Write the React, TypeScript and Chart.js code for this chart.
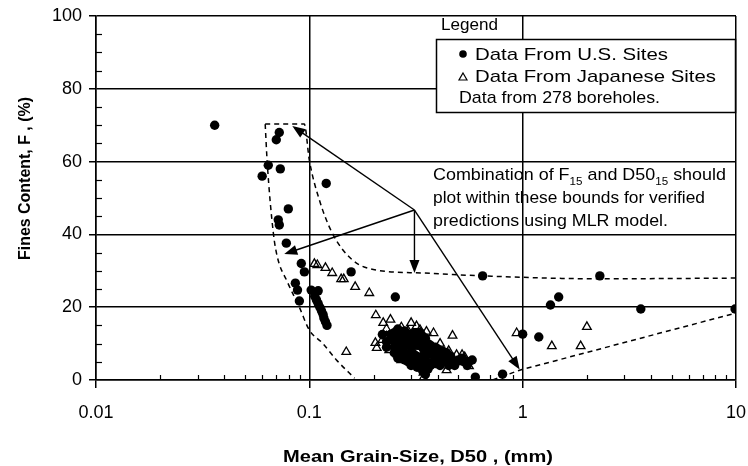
import React, { useEffect, useRef } from 'react';
import { Chart, registerables } from 'chart.js';

Chart.register(...registerables);

const FONT = "'Liberation Sans', Arial, Helvetica, sans-serif";

// ---------- data ----------
const usSites: [number, number][] = [
  [0.036, 70], [0.0723, 68], [0.070, 66], [0.0642, 59], [0.0601, 56], [0.0731, 58], [0.120, 54],
  [0.0797, 47], [0.0715, 44], [0.0723, 42.6], [0.078, 37.6], [0.0917, 32], [0.0948, 29.7], [0.157, 29.7],
  [0.086, 26.6], [0.088, 24.7], [0.0898, 21.7], [0.102, 24.7], [0.110, 24.5], [0.106, 23], [0.108, 22],
  [0.110, 21], [0.112, 20], [0.114, 19], [0.116, 18], [0.117, 17], [0.119, 16], [0.121, 15], [0.253, 22.8],
  [0.649, 28.6], [2.30, 28.6], [1.35, 20.6], [1.475, 22.8], [3.58, 19.5], [9.9, 19.5], [1.0, 12.6],
  [1.19, 11.8], [0.60, 0.8], [0.805, 1.6],
  [0.25, 13], [0.26, 14], [0.27, 12], [0.28, 13.5], [0.29, 11], [0.3, 12.5], [0.24, 11], [0.25, 9],
  [0.26, 10.5], [0.27, 8], [0.28, 9.5], [0.29, 7], [0.3, 9], [0.31, 10.5], [0.32, 11.5], [0.33, 9.5],
  [0.34, 12], [0.35, 8], [0.36, 10], [0.37, 9.5], [0.38, 7], [0.39, 9], [0.4, 8.5], [0.31, 7], [0.33, 6],
  [0.35, 5], [0.36, 7], [0.38, 5], [0.4, 6.5], [0.42, 8], [0.42, 5], [0.44, 6], [0.45, 4], [0.47, 5],
  [0.5, 5.5], [0.53, 5], [0.56, 5], [0.58, 5.5], [0.28, 5.5], [0.3, 4], [0.32, 3.5], [0.34, 2.5],
  [0.35, 1.5], [0.26, 6], [0.23, 9], [0.33, 13], [0.44, 7.5],
  [0.24, 12.5], [0.25, 11], [0.26, 12.5], [0.27, 10], [0.28, 11], [0.29, 12.5], [0.3, 10.5], [0.31, 13],
  [0.32, 9.5], [0.33, 10.5], [0.34, 9], [0.35, 11.5], [0.36, 8.5], [0.37, 7.5], [0.38, 8.5], [0.39, 6],
  [0.41, 7], [0.43, 6.5], [0.27, 6.5], [0.29, 5], [0.31, 5.5], [0.33, 4.5], [0.35, 6.5], [0.37, 4],
  [0.39, 4.5], [0.41, 4], [0.46, 6.5], [0.48, 4], [0.52, 6], [0.55, 4], [0.25, 7.5], [0.23, 10.5],
  [0.28, 7.5], [0.3, 6], [0.32, 6.5], [0.34, 4], [0.36, 3], [0.22, 12.5],
];

const japaneseSites: [number, number][] = [
  [0.1056, 31.9], [0.109, 31.6], [0.119, 30.8], [0.128, 29.4], [0.141, 27.7], [0.145, 27.7],
  [0.164, 25.6], [0.191, 23.9], [0.149, 7.7],
  [0.937, 12.9], [1.37, 9.3], [1.87, 9.3], [2.0, 14.6],
  [0.205, 17.8], [0.222, 15.7], [0.24, 16.6], [0.30, 15.7], [0.318, 14.8], [0.354, 13.3],
  [0.382, 12.9], [0.469, 12.2],
  [0.204, 10.2], [0.22, 11], [0.207, 8.8], [0.237, 8.2],
  [0.27, 5.5], [0.30, 4.9], [0.343, 3.6], [0.343, 2], [0.343, 0.6], [0.44, 2.7],
  [0.49, 6.9], [0.52, 6.9], [0.50, 4.9], [0.56, 3.8], [0.535, 6.3], [0.506, 5.5],
  [0.23, 12], [0.25, 13], [0.26, 11], [0.28, 12], [0.24, 10], [0.27, 9], [0.29, 10], [0.31, 12],
  [0.33, 11], [0.35, 10], [0.26, 7], [0.29, 7], [0.32, 8], [0.34, 7], [0.37, 9], [0.39, 8],
  [0.41, 10], [0.43, 7], [0.45, 8], [0.47, 6], [0.40, 5], [0.36, 5], [0.31, 6], [0.27, 14.5],
  [0.29, 13.5], [0.33, 13.8], [0.23, 14],
];

const outerBound: [number, number][] = [
  [0.0621, 70.3], [0.0635, 59.6], [0.0678, 40.4], [0.0708, 33.8], [0.0788, 27], [0.0898, 20],
  [0.1, 13.7], [0.115, 10.2], [0.134, 5.5], [0.163, 0.5],
];
const innerBound: [number, number][] = [
  [0.0621, 70.3], [0.0947, 70.3], [0.1, 60.4], [0.1114, 49.5], [0.128, 40.4], [0.159, 33],
  [0.2065, 30.2], [0.339, 29.4], [0.648, 28.6], [2.3, 27.8], [10, 28],
];
const lowerBound: [number, number][] = [[0.723, 0], [0.968, 2.7], [10, 18.4]];

const arrowApex: [number, number] = [0.311, 46.7];
const arrowTargets: [number, number][] = [[0.0832, 69.8], [0.0763, 34.6], [0.311, 29.4], [0.968, 2.9]];

const xTickValues = [
  0.01, 0.02, 0.03, 0.04, 0.05, 0.06, 0.07, 0.08, 0.09,
  0.1, 0.2, 0.3, 0.4, 0.5, 0.6, 0.7, 0.8, 0.9,
  1, 2, 3, 4, 5, 6, 7, 8, 9, 10,
];
const xLabelValues = [0.01, 0.1, 1, 10];
const yLabelValues = [0, 20, 40, 60, 80, 100];

const legendTitle = 'Legend';
const legendUS = 'Data From U.S. Sites';
const legendJP = 'Data From Japanese Sites';
const legendNote = 'Data from 278 boreholes.';
const xTitle = 'Mean Grain-Size, D50 , (mm)';
const yTitle = 'Fines Content, F , (%)';

// ---------- helpers ----------
const isLabelX = (v: number) => xLabelValues.some((l) => Math.abs(l - v) < 1e-9);
const isLabelY = (v: number) => yLabelValues.includes(v);

type Seg = { t: string; sub?: boolean };

function drawFitted(ctx: CanvasRenderingContext2D, segs: Seg[], x: number, y: number, width: number, size: number, bold = false) {
  const main = `${bold ? 'bold ' : ''}${size}px ${FONT}`;
  const subF = `${bold ? 'bold ' : ''}${Math.round(size * 0.62)}px ${FONT}`;
  let w = 0;
  for (const s of segs) {
    ctx.font = s.sub ? subF : main;
    w += ctx.measureText(s.t).width;
  }
  const sx = width / w;
  ctx.save();
  ctx.translate(x, y);
  ctx.scale(sx, 1);
  ctx.fillStyle = '#000';
  ctx.textAlign = 'left';
  ctx.textBaseline = 'alphabetic';
  let cx = 0;
  for (const s of segs) {
    ctx.font = s.sub ? subF : main;
    ctx.fillText(s.t, cx, s.sub ? size * 0.28 : 0);
    cx += ctx.measureText(s.t).width;
  }
  ctx.restore();
}

function arrow(ctx: CanvasRenderingContext2D, x1: number, y1: number, x2: number, y2: number) {
  const a = Math.atan2(y2 - y1, x2 - x1);
  const L = 13, H = 5;
  ctx.beginPath();
  ctx.moveTo(x1, y1);
  ctx.lineTo(x2 - Math.cos(a) * L * 0.8, y2 - Math.sin(a) * L * 0.8);
  ctx.stroke();
  ctx.beginPath();
  ctx.moveTo(x2, y2);
  ctx.lineTo(x2 - Math.cos(a) * L - Math.sin(a) * H, y2 - Math.sin(a) * L + Math.cos(a) * H);
  ctx.lineTo(x2 - Math.cos(a) * L + Math.sin(a) * H, y2 - Math.sin(a) * L - Math.cos(a) * H);
  ctx.closePath();
  ctx.fill();
}

const overlay = {
  id: 'overlay',
  beforeDatasetsDraw(chart: any) {
    const ctx: CanvasRenderingContext2D = chart.ctx;
    const xs = chart.scales.x, ys = chart.scales.y;
    const area = chart.chartArea;
    ctx.save();
    ctx.strokeStyle = '#000';
    ctx.lineWidth = 1.2;
    for (const t of xs.ticks) {
      if (isLabelX(t.value)) continue;
      const px = Math.round(xs.getPixelForValue(t.value)) + 0.5;
      ctx.beginPath();
      ctx.moveTo(px, area.bottom);
      ctx.lineTo(px, area.bottom - 5);
      ctx.stroke();
    }
    for (const t of ys.ticks) {
      if (isLabelY(t.value)) continue;
      const py = Math.round(ys.getPixelForValue(t.value)) + 0.5;
      ctx.beginPath();
      ctx.moveTo(area.left, py);
      ctx.lineTo(area.left + 6, py);
      ctx.stroke();
    }
    ctx.restore();
  },
  afterDatasetsDraw(chart: any) {
    const ctx: CanvasRenderingContext2D = chart.ctx;
    const xs = chart.scales.x, ys = chart.scales.y;
    ctx.save();
    // arrows
    ctx.strokeStyle = '#000';
    ctx.fillStyle = '#000';
    ctx.lineWidth = 1.4;
    const ax = xs.getPixelForValue(arrowApex[0]);
    const ay = ys.getPixelForValue(arrowApex[1]);
    for (const [tx, ty] of arrowTargets) {
      arrow(ctx, ax, ay, xs.getPixelForValue(tx), ys.getPixelForValue(ty));
    }
    // legend box
    ctx.fillStyle = '#fff';
    ctx.fillRect(436, 39, 300, 73);
    ctx.strokeStyle = '#000';
    ctx.lineWidth = 1.5;
    ctx.strokeRect(436.5, 39.5, 299, 73);
    drawFitted(ctx, [{ t: legendTitle }], 441, 30, 57, 17);
    ctx.fillStyle = '#000';
    ctx.beginPath();
    ctx.arc(463, 54, 3.8, 0, Math.PI * 2);
    ctx.fill();
    drawFitted(ctx, [{ t: legendUS }], 475, 60, 193, 17);
    ctx.beginPath();
    ctx.moveTo(463, 73);
    ctx.lineTo(467, 80);
    ctx.lineTo(459, 80);
    ctx.closePath();
    ctx.lineWidth = 1.2;
    ctx.stroke();
    drawFitted(ctx, [{ t: legendJP }], 475, 82, 241, 17);
    drawFitted(ctx, [{ t: legendNote }], 459, 103, 201, 17);
    // annotation
    drawFitted(ctx, [
      { t: 'Combination of F' }, { t: '15', sub: true }, { t: ' and D50' }, { t: '15', sub: true }, { t: ' should' },
    ], 433, 180, 293, 17);
    drawFitted(ctx, [{ t: 'plot within these bounds for verified' }], 433, 203, 272, 17);
    drawFitted(ctx, [{ t: 'predictions using MLR model.' }], 433, 226, 235, 17);
    // axis titles
    drawFitted(ctx, [{ t: xTitle }], 283, 462, 270, 17, true);
    ctx.save();
    ctx.translate(30, 260);
    ctx.rotate(-Math.PI / 2);
    drawFitted(ctx, [{ t: yTitle }], 0, 0, 163, 16, true);
    ctx.restore();
    ctx.restore();
  },
};

const pts = (a: [number, number][]) => a.map(([x, y]) => ({ x, y }));

export default function App() {
  const ref = useRef<HTMLCanvasElement>(null);
  useEffect(() => {
    const gridColor = (c: any) => (c.tick && (c.scale.axis === 'x' ? isLabelX(c.tick.value) : isLabelY(c.tick.value)) ? '#000' : 'rgba(0,0,0,0)');
    const chart = new Chart(ref.current as HTMLCanvasElement, {
      type: 'scatter',
      data: {
        datasets: [
          {
            label: legendJP, data: pts(japaneseSites), pointStyle: 'triangle', pointRadius: 5,
            backgroundColor: 'rgba(255,255,255,0)', borderColor: '#000', borderWidth: 1.3, order: 0,
          },
          {
            label: legendUS, data: pts(usSites), pointStyle: 'circle', pointRadius: 4.7,
            backgroundColor: '#000', borderColor: '#000', borderWidth: 0, order: 1,
          },
          {
            label: 'outer', data: pts(outerBound), showLine: true, pointRadius: 0, borderColor: '#000',
            borderWidth: 1.5, borderDash: [5, 4], cubicInterpolationMode: 'monotone', order: 2,
          },
          {
            label: 'inner', data: pts(innerBound), showLine: true, pointRadius: 0, borderColor: '#000',
            borderWidth: 1.5, borderDash: [5, 4], cubicInterpolationMode: 'monotone', order: 2,
          },
          {
            label: 'lower', data: pts(lowerBound), showLine: true, pointRadius: 0, borderColor: '#000',
            borderWidth: 1.5, borderDash: [5, 4], order: 2,
          },
        ] as any,
      },
      options: {
        responsive: false,
        animation: false,
        devicePixelRatio: 1,
        events: [],
        layout: { padding: { left: 0, right: 12, top: 16, bottom: 0 } },
        plugins: { legend: { display: false }, tooltip: { enabled: false } },
        scales: {
          x: {
            type: 'logarithmic',
            min: 0.01,
            max: 10,
            afterBuildTicks: (s: any) => { s.ticks = xTickValues.map((v) => ({ value: v })); },
            afterFit: (s: any) => { s.height = 86; s.paddingLeft = 0; s.paddingRight = 0; },
            ticks: {
              autoSkip: false, maxRotation: 0, minRotation: 0, padding: 14, color: '#000',
              font: { family: FONT, size: 18 },
              callback: (v: any) => (isLabelX(Number(v)) ? String(Number(v)) : ''),
            },
            grid: { color: gridColor, tickColor: gridColor, lineWidth: 1.5, tickLength: 8 },
            border: { color: '#000', width: 1.5 },
          },
          y: {
            type: 'linear',
            min: 0,
            max: 100,
            afterFit: (s: any) => { s.width = 96; s.paddingTop = 0; s.paddingBottom = 0; },
            ticks: {
              stepSize: 5, autoSkip: false, padding: 7, color: '#000',
              font: { family: FONT, size: 18 },
              callback: (v: any) => (isLabelY(Number(v)) ? String(v) : ''),
            },
            grid: { color: gridColor, tickColor: gridColor, lineWidth: 1.5, tickLength: 7 },
            border: { color: '#000', width: 1.5 },
          },
        } as any,
      },
      plugins: [overlay],
    });
    return () => chart.destroy();
  }, []);
  return (
    <div style={{ position: 'fixed', left: 0, top: 0, width: 748, height: 466, background: '#fff' }}>
      <canvas ref={ref} width={748} height={466} style={{ display: 'block' }} />
    </div>
  );
}
